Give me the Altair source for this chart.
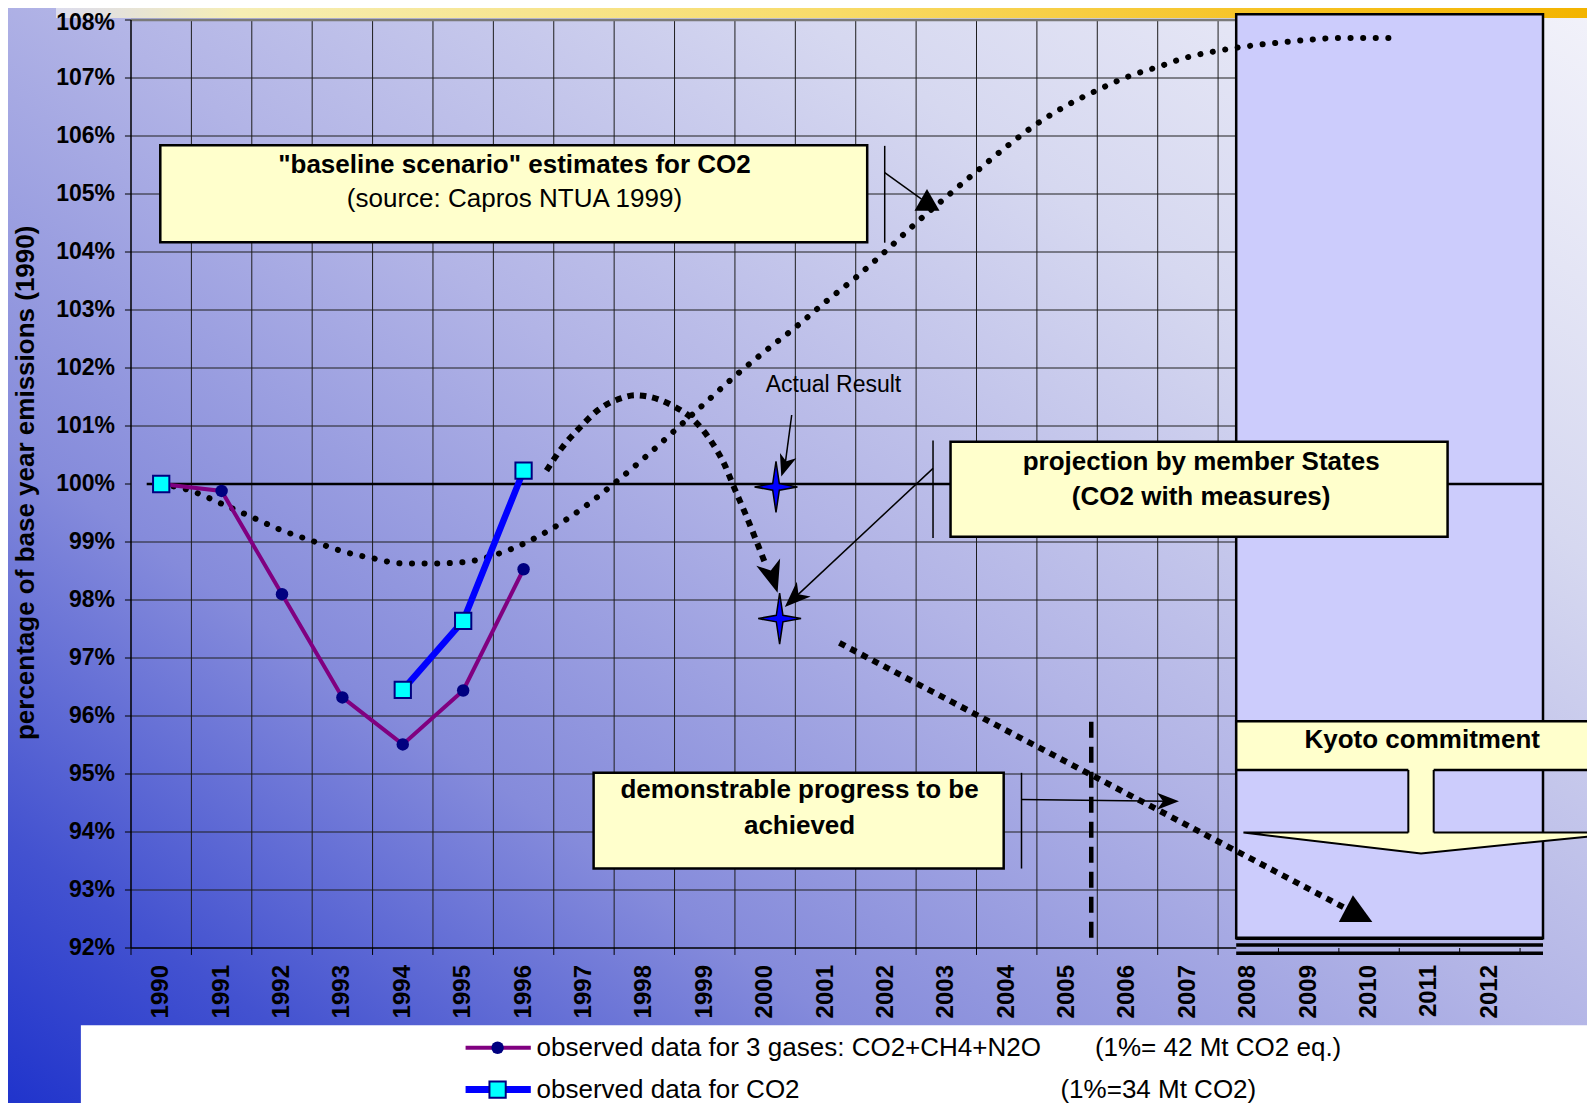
import altair as alt
import pandas as pd

FONT = "Liberation Sans"

# ---------------- data ----------------
obs_years = [1990, 1991, 1992, 1993, 1994, 1995, 1996]
obs_3gases = [100.0, 99.88, 98.10, 96.32, 95.51, 96.44, 98.53]
co2_years = [1990, 1994, 1995, 1996]
co2_values = [100.0, 96.45, 97.64, 100.23]

baseline_years = [1990.0, 1990.5, 1991.0, 1991.5, 1992.0, 1992.5, 1993.0, 1993.5,
                  1994.0, 1994.5, 1995.0, 1995.5, 1996.0, 1996.5, 1997.0, 1997.5,
                  1998.0, 1998.5, 1999.0, 1999.5, 2000.0, 2000.5, 2001.0, 2001.5,
                  2002.0, 2002.5, 2003.0, 2003.5, 2004.0, 2004.5, 2005.0, 2005.5,
                  2006.0, 2006.5, 2007.0, 2007.5, 2008.0, 2008.5, 2009.0, 2009.5,
                  2010.0, 2010.33]
baseline_values = [100.0, 99.88, 99.66, 99.43, 99.20, 99.02, 98.84, 98.72,
                   98.63, 98.63, 98.65, 98.77, 98.97, 99.25, 99.60, 100.01,
                   100.45, 100.92, 101.39, 101.86, 102.29, 102.70, 103.14, 103.56,
                   104.02, 104.50, 104.95, 105.39, 105.82, 106.21, 106.53, 106.79,
                   107.02, 107.19, 107.36, 107.47, 107.55, 107.61, 107.66, 107.69,
                   107.69, 107.69]

trend_years = [1996.38, 1996.64, 1996.93, 1997.24, 1997.62, 1997.85, 1998.05, 1998.47,
               1998.80, 1999.11, 1999.33, 1999.49, 1999.68, 1999.85, 2000.02]
trend_values = [100.23, 100.63, 100.97, 101.28, 101.48, 101.53, 101.51, 101.35,
                101.12, 100.73, 100.33, 99.93, 99.47, 99.03, 98.58]

actual_result = [2000.18, 99.95]
ms_projection = [2000.24, 97.68]

progress_years = [2001.23, 2009.62]
progress_values = [97.26, 92.68]
milestone_year = 2005.40

year_labels = list(range(1990, 2013))
pct_ticks = list(range(92, 109))
pct_labels = [f"{v}%" for v in pct_ticks]
kyoto_period = [2007.80, 2012.88]

# ---------------- helpers ----------------
xs = alt.Scale(domain=[1989.5, 2012.88], nice=False, zero=False)
ys = alt.Scale(domain=[92, 108], nice=False, zero=False)


def df(**cols):
    return pd.DataFrame(cols)


def X(f="x"):
    return alt.X(f, type="quantitative", scale=xs, axis=None)


def Y(f="y"):
    return alt.Y(f, type="quantitative", scale=ys, axis=None)


def seg(x1, y1, x2, y2, **mk):
    return alt.Chart(df(x=[x1], y=[y1], x2=[x2], y2=[y2])).mark_rule(**mk).encode(
        x=X(), y=Y(), x2="x2", y2="y2")


def box(x1, x2, y1, y2, **mk):
    return alt.Chart(df(x=[x1], x2=[x2], y=[y1], y2=[y2])).mark_rect(**mk).encode(
        x=X(), x2="x2", y=Y(), y2="y2")


def label(x, y, text, **mk):
    props = dict(font=FONT, color="black", baseline="middle", align="center")
    props.update(mk)
    return alt.Chart(df(x=[x], y=[y], t=[text])).mark_text(**props).encode(
        x=X(), y=Y(), text="t:N")


DART = "M0,-1L0.7,0.8L0,0.3L-0.7,0.8Z"
STAR4 = "M0,-1L0.13,-0.13L0.84,0L0.13,0.13L0,1L-0.13,0.13L-0.84,0L-0.13,-0.13Z"
TRI = "M-0.09,-1L-0.85,0.44L0.96,0.44Z"


def head(x, y, shape, size, angle=0):
    return alt.Chart(df(x=[x], y=[y])).mark_point(
        shape=shape, filled=True, color="black", opacity=1, size=size, angle=angle
    ).encode(x=X(), y=Y())


one = df(a=[0])
layers = []

# ---------------- background ----------------
bg_grad = alt.LinearGradient(
    gradient="linear", x1=0, y1=1, x2=1, y2=0,
    stops=[alt.GradientStop(color="#2034cc", offset=0),
           alt.GradientStop(color="#4352d0", offset=0.12),
           alt.GradientStop(color="#858bdb", offset=0.3),
           alt.GradientStop(color="#b2b4e6", offset=0.52),
           alt.GradientStop(color="#d6d8f0", offset=0.75),
           alt.GradientStop(color="#f2f2fa", offset=1)])
layers.append(alt.Chart(one).mark_rect(color=bg_grad).encode(
    x=alt.value(-123), x2=alt.value(1456), y=alt.value(-12), y2=alt.value(1083)))

brush = alt.LinearGradient(
    gradient="linear", x1=0, y1=0, x2=1, y2=0,
    stops=[alt.GradientStop(color="#dcdcee", offset=0),
           alt.GradientStop(color="#f6eeb4", offset=0.12),
           alt.GradientStop(color="#f8dc6a", offset=0.5),
           alt.GradientStop(color="#f6c222", offset=0.8),
           alt.GradientStop(color="#f3b400", offset=1)])
layers.append(alt.Chart(one).mark_rect(color=brush).encode(
    x=alt.value(-75), x2=alt.value(1456), y=alt.value(-12), y2=alt.value(-2)))

# legend area
layers.append(box(1988.67, 2013.9, 90.67, 88.9, fill="white"))

# ---------------- grid & axes (drawn as marks) ----------------
hgrid = df(x=1989.5, x2=kyoto_period[0],
           y=[v for v in pct_ticks if v not in (92, 100, 108)])
layers.append(alt.Chart(hgrid).mark_rule(color="#1e1e1e", strokeWidth=1).encode(
    x=X(), x2="x2", y=Y()))

vgrid = df(x=[y + 0.5 for y in year_labels if y <= 2007], y=92, y2=108)
layers.append(alt.Chart(vgrid).mark_rule(color="#1e1e1e", strokeWidth=1).encode(
    x=X(), y=Y(), y2="y2"))

xticks = df(x=[y - 0.5 for y in year_labels] + [2012.5], y=92, y2=91.88)
layers.append(alt.Chart(xticks).mark_rule(color="black", strokeWidth=1).encode(
    x=X(), y=Y(), y2="y2"))
yticks = df(x=1989.5, x2=1989.4, y=pct_ticks)
layers.append(alt.Chart(yticks).mark_rule(color="black", strokeWidth=1).encode(
    x=X(), x2="x2", y=Y()))

layers.append(seg(1989.5, 92, kyoto_period[0], 92, color="black", strokeWidth=1.5))
layers.append(seg(1989.5, 108, kyoto_period[0], 108, color="#7a7a7a", strokeWidth=2.5))
layers.append(seg(1989.5, 92, 1989.5, 108, color="black", strokeWidth=1.5))

# tick labels
ylab = df(x=1989.5, y=pct_ticks, t=pct_labels)
layers.append(alt.Chart(ylab).transform_filter("datum.y < 108").mark_text(
    font=FONT, fontSize=23, fontWeight="bold", color="black", align="right",
    baseline="middle", dx=-16).encode(x=X(), y=Y(), text="t:N"))
layers.append(alt.Chart(ylab).transform_filter("datum.y >= 108").mark_text(
    font=FONT, fontSize=23, fontWeight="bold", color="black", align="right",
    baseline="middle", dx=-16, dy=3).encode(x=X(), y=Y(), text="t:N"))
layers.append(alt.Chart(df(x=year_labels, y=91.707, t=[str(y) for y in year_labels])).mark_text(
    font=FONT, fontSize=24, fontWeight="bold", color="black", align="right",
    baseline="middle", angle=270).encode(x=X(), y=Y(), text="t:N"))
layers.append(label(1987.76, 100.02, "percentage of base year emissions (1990)",
                    fontSize=26, fontWeight="bold", angle=270))

# ---------------- Kyoto period box ----------------
layers.append(box(kyoto_period[0], kyoto_period[1], 92.17, 108.10,
                  fill="#ccccfc", stroke="black", strokeWidth=2.5))
for yy in (92.17, 92.05, 91.91):
    layers.append(seg(kyoto_period[0], yy, kyoto_period[1], yy, color="black", strokeWidth=3.5))

# 100% reference line
layers.append(seg(1989.76, 100, kyoto_period[1], 100, color="black", strokeWidth=2.5))

# ---------------- baseline scenario ----------------
layers.append(alt.Chart(df(x=baseline_years, y=baseline_values)).mark_line(
    color="black", strokeWidth=6, strokeDash=[0.1, 12.5], strokeCap="round",
    interpolate="monotone").encode(x=X(), y=Y()))

layers.append(box(1989.985, 2001.69, 105.84, 104.17, fill="#ffffcc", stroke="black", strokeWidth=2.5))
layers.append(label(1995.85, 105.50, '"baseline scenario" estimates for CO2', fontSize=26, fontWeight="bold"))
layers.append(label(1995.85, 104.91, "(source: Capros NTUA 1999)", fontSize=26))
layers.append(seg(2001.98, 105.83, 2001.98, 104.16, color="black", strokeWidth=1.5))
layers.append(seg(2001.98, 105.37, 2002.59, 104.91, color="black", strokeWidth=1.5))
layers.append(head(2002.68, 104.90, "triangle-up", 625))

# ---------------- short-term trend (heavy dotted) ----------------
layers.append(alt.Chart(df(x=trend_years, y=trend_values)).mark_line(
    color="black", strokeWidth=6, strokeDash=[6.5, 6], strokeCap="butt",
    interpolate="monotone").encode(x=X(), y=Y()))

# ---------------- observed series ----------------
obs = df(x=obs_years, y=obs_3gases)
layers.append(alt.Chart(obs).mark_line(color="#800080", strokeWidth=4).encode(x=X(), y=Y()))
layers.append(alt.Chart(obs).mark_point(shape="circle", filled=True, color="#000080",
                                        opacity=1, size=155).encode(x=X(), y=Y()))
co2 = df(x=co2_years, y=co2_values)
layers.append(alt.Chart(co2).transform_filter("datum.x >= 1994").mark_line(
    color="#0000ff", strokeWidth=6.5).encode(x=X(), y=Y()))
layers.append(alt.Chart(co2).mark_point(shape="square", filled=True, fill="#00ffff",
                                        stroke="#000080", strokeWidth=2, opacity=1,
                                        size=265).encode(x=X(), y=Y()))

# ---------------- stars ----------------
stars = df(x=[actual_result[0], ms_projection[0]], y=[actual_result[1], ms_projection[1]])
layers.append(alt.Chart(stars).mark_point(shape=STAR4, filled=True, fill="#0000ff",
                                          stroke="black", strokeWidth=1.5, opacity=1,
                                          size=2600).encode(x=X(), y=Y()))

# arrowheads near 2000
layers.append(head(2000.12, 98.42, DART, 1264, 163))
layers.append(label(2000.01, 101.70, "Actual Result", fontSize=23, align="left"))
layers.append(seg(2000.44, 101.19, 2000.33, 100.33, color="black", strokeWidth=1.5))
layers.append(head(2000.33, 100.33, DART, 597, 198))

# ---------------- member States projection box ----------------
layers.append(box(2003.07, 2011.30, 100.73, 99.09, fill="#ffffcc", stroke="black", strokeWidth=2.5))
layers.append(label(2007.22, 100.38, "projection by member States", fontSize=26, fontWeight="bold"))
layers.append(label(2007.22, 99.78, "(CO2 with measures)", fontSize=26, fontWeight="bold"))
layers.append(seg(2002.78, 100.75, 2002.78, 99.07, color="black", strokeWidth=1.5))
layers.append(seg(2002.78, 100.27, 2000.50, 98.05, color="black", strokeWidth=1.5))
layers.append(head(2000.50, 98.05, DART, 835, 226.7))

# ---------------- demonstrable progress ----------------
layers.append(alt.Chart(df(x=progress_years, y=progress_values)).mark_line(
    color="black", strokeWidth=6, strokeDash=[6.5, 6], strokeCap="butt").encode(x=X(), y=Y()))
layers.append(head(2009.76, 92.59, TRI, 1369))
layers.append(seg(milestone_year, 95.9, milestone_year, 92.08, color="black",
                  strokeWidth=4.5, strokeDash=[16, 9]))

layers.append(box(1997.16, 2003.95, 95.02, 93.37, fill="#ffffcc", stroke="black", strokeWidth=2.5))
layers.append(label(2000.57, 94.72, "demonstrable progress to be", fontSize=26, fontWeight="bold"))
layers.append(label(2000.57, 94.10, "achieved", fontSize=26, fontWeight="bold"))
layers.append(seg(2004.245, 95.02, 2004.245, 93.37, color="black", strokeWidth=1.5))
layers.append(seg(2004.245, 94.56, 2006.65, 94.53, color="black", strokeWidth=1.5))
layers.append(head(2006.65, 94.53, DART, 597, 90))

# ---------------- Kyoto commitment callout ----------------
layers.append(box(kyoto_period[0], 2013.9, 95.91, 95.07, fill="#ffffcc", stroke="black", strokeWidth=2.5))
layers.append(alt.Chart(df(x=[2007.92, 2010.86, 2013.9], y=[93.99, 93.99, 93.99],
                           y2=[93.99, 93.63, 93.95])).mark_area(
    fill="#ffffcc", stroke="black", strokeWidth=2, orient="vertical").encode(
    x=X(), y=Y(), y2="y2"))
layers.append(box(2010.65, 2011.07, 95.11, 93.965, fill="#ffffcc"))
layers.append(seg(2010.65, 95.07, 2010.65, 93.99, color="black", strokeWidth=2))
layers.append(seg(2011.07, 95.07, 2011.07, 93.99, color="black", strokeWidth=2))
layers.append(label(2010.88, 95.59, "Kyoto commitment", fontSize=26, fontWeight="bold"))

# ---------------- legend ----------------
leg1, leg2 = 90.28, 89.56
layers.append(seg(1995.04, leg1, 1996.12, leg1, color="#800080", strokeWidth=4))
layers.append(alt.Chart(df(x=[1995.57], y=[leg1])).mark_point(
    shape="circle", filled=True, color="#000080", opacity=1, size=155).encode(x=X(), y=Y()))
layers.append(seg(1995.04, leg2, 1996.12, leg2, color="#0000ff", strokeWidth=7))
layers.append(alt.Chart(df(x=[1995.57], y=[leg2])).mark_point(
    shape="square", filled=True, fill="#00ffff", stroke="#000080", strokeWidth=2,
    opacity=1, size=265).encode(x=X(), y=Y()))
layers.append(label(1996.215, leg1, "observed data for 3 gases: CO2+CH4+N2O", fontSize=26, align="left"))
layers.append(label(2005.46, leg1, "(1%= 42 Mt CO2 eq.)", fontSize=26, align="left"))
layers.append(label(1996.215, leg2, "observed data for CO2", fontSize=26, align="left"))
layers.append(label(2004.89, leg2, "(1%=34 Mt CO2)", fontSize=26, align="left"))

chart = alt.layer(*layers).properties(
    width=1412, height=928,
    padding={"left": 123, "top": 12, "right": 44, "bottom": 155},
    autosize=alt.AutoSizeParams(type="none"),
).configure_view(strokeWidth=0).configure(background="white")

chart.save("out.html", embed_options={"renderer": "svg", "actions": False})
